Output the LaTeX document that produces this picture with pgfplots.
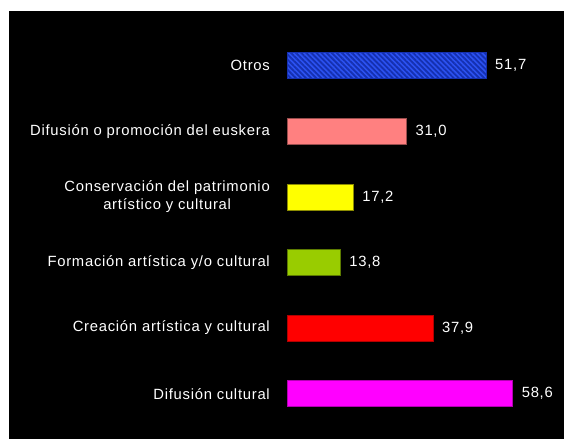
\documentclass[border=0pt]{standalone}
\usepackage{pgfplots}
\pgfplotsset{compat=1.18}
\usetikzlibrary{patterns.meta}
\usepackage{fontspec}
\setmainfont{Liberation Sans}[LetterSpace=5]

\definecolor{cblue}{HTML}{2C52F2}
\definecolor{cbluedark}{HTML}{1530B0}
\definecolor{csalmon}{HTML}{FF8080}
\definecolor{cyellow}{HTML}{FFFF00}
\definecolor{cgreen}{HTML}{99CC00}
\definecolor{cred}{HTML}{FF0000}
\definecolor{cmagenta}{HTML}{FF00FF}

\begin{document}
\begin{tikzpicture}[x=1pt,y=1pt]
\fill[white] (0,0) rectangle (564,439);
\fill[black] (9,0) rectangle (564,428);
\useasboundingbox (0,0) rectangle (564,439);
\begin{axis}[
    at={(287pt,12.5pt)}, anchor=south west,
    scale only axis,
    width=269.5pt, height=393.8pt,
    xbar, bar width=26pt, bar shift=0pt,
    xmin=0, xmax=70,
    ymin=-0.5, ymax=5.5,
    axis line style={draw=none},
    major tick length=0pt,
    xtick=\empty,
    ytick={0,1,2,3,4,5},
    yticklabels={Difusión cultural, Creación artística y cultural,
      Formación artística  y/o cultural,
      {Conservación del patrimonio\\artístico y cultural},
      Difusión o promoción del euskera, Otros},
    yticklabel style={text=white, align=center, font=\fontsize{14.8}{18}\selectfont,
      inner sep=0pt, xshift=-17pt},
    nodes near coords,
    every node near coord/.append style={text=white, anchor=west, inner sep=0pt,
      xshift=9pt, font=\fontsize{14.8}{18}\selectfont},
    /pgf/number format/.cd, fixed, fixed zerofill, precision=1, use comma,
      assume math mode=true,
  ]
  \addplot[fill=cmagenta, draw=cmagenta!70!black] coordinates {(58.6,0)};
  \addplot[fill=cred, draw=cred!70!black] coordinates {(37.9,1)};
  \addplot[fill=cgreen, draw=cgreen!60!black] coordinates {(13.8,2)};
  \addplot[fill=cyellow, draw=cyellow!55!black] coordinates {(17.2,3)};
  \addplot[fill=csalmon, draw=csalmon!60!black] coordinates {(31.0,4)};
  \addplot[fill=cblue, draw=cbluedark,
    postaction={pattern={Lines[angle=-45, distance=3.6pt, line width=1.8pt]},
      pattern color=cbluedark}] coordinates {(51.7,5)};
\end{axis}
\end{tikzpicture}
\end{document}
